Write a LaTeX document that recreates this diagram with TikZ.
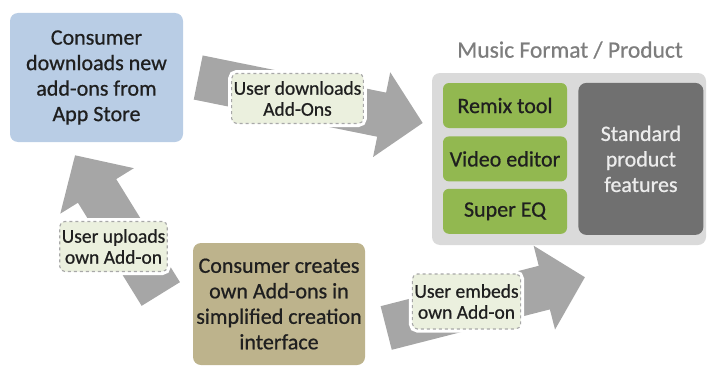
\documentclass[tikz,border=0pt]{standalone}
\usepackage{fontspec}
\setmainfont{Carlito}[FakeBold=0.7]
\usetikzlibrary{positioning,arrows.meta,calc}

\definecolor{storeblue}{RGB}{185,205,229}
\definecolor{formatgray}{RGB}{218,218,218}
\definecolor{featgreen}{RGB}{146,184,80}
\definecolor{stdgray}{RGB}{112,112,112}
\definecolor{stdtext}{RGB}{236,236,236}
\definecolor{creatortan}{RGB}{189,179,140}
\definecolor{arrowgray}{RGB}{166,166,166}
\definecolor{tagfill}{RGB}{235,240,222}
\definecolor{tagline}{RGB}{168,168,168}
\definecolor{titlegray}{RGB}{125,125,125}

\begin{document}
\begin{tikzpicture}[x=1pt,y=-1pt,
  box/.style={rounded corners=8pt, align=center, inner sep=2pt, text=black!88,
    font=\fontsize{22}{25.5}\selectfont},
  feature/.style={box, fill=featgreen, minimum width=124pt, minimum height=45pt, rounded corners=6pt},
  tag/.style={rounded corners=5pt, fill=tagfill, draw=tagline, dashed, line width=1.1pt,
    preaction={draw=white, solid, line width=7pt},
    align=center, inner xsep=2pt, inner ysep=2pt, minimum height=50pt, text=black!88,
    font=\fontsize{19.5}{21}\selectfont},
  fatarrow/.style={draw=arrowgray, line width=45pt, -{Triangle[length=42pt,width=84pt]}}]

\useasboundingbox (0,0) rectangle (708,369);

% boxes
\node[box, fill=storeblue, minimum width=173pt, minimum height=129pt] (Store) at (96.5,77.5)
  {Consumer\\downloads new\\add-ons from\\App Store};
\node[box, fill=formatgray, minimum width=274pt, minimum height=172pt] (Format) at (569,159) {};
\node[text=titlegray, font=\fontsize{23.5}{26}\selectfont] (Title) at (570,50) {Music Format / Product};
\node[feature] (Remix) at (505,105.5) {Remix tool};
\node[feature, below=8pt of Remix] (Video) {Video editor};
\node[feature, below=7pt of Video] (SuperEQ) {Super EQ};
\node[box, fill=stdgray, text=stdtext, minimum width=125pt, minimum height=152pt, right=11pt of Video] (Standard)
  {Standard\\product\\features};
\node[box, fill=creatortan, minimum width=172pt, minimum height=122pt] (Creator) at (279,304)
  {Consumer creates\\own Add-ons in\\simplified creation\\interface};

% fat arrows
\draw[fatarrow] ($(Store.east)+(15,0)$) -- ($(Format.west)+(-9,-36)$);
\draw[fatarrow] ($(Creator.west)+(-32,-10)$) -- ($(Store.south)+(-21.5,13)$);
\draw[fatarrow] ($(Creator.east)+(21,24)$) -- ($(Format.south)+(16,32)$);

% arrow labels
\node[tag] (DownTag) at (297.5,98.5) {User downloads\\Add-Ons};
\node[tag] (UpTag) at (113.5,246.5) {User uploads\\own Add-on};
\node[tag, minimum height=55pt] (EmbedTag) at (466.5,301.5) {User embeds\\own Add-on};
\end{tikzpicture}
\end{document}
